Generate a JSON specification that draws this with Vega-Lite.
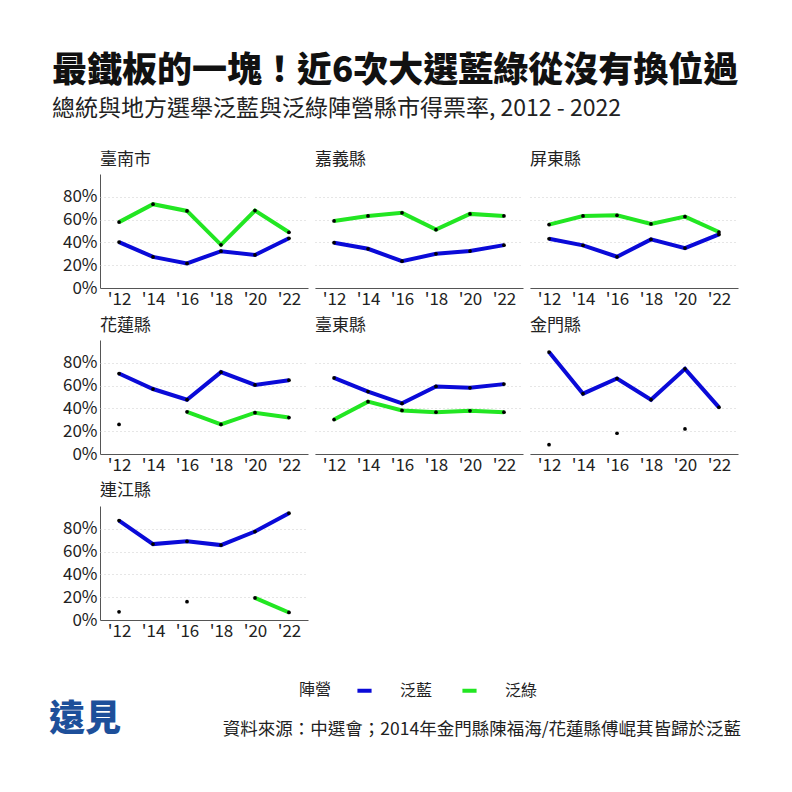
{
  "$schema": "https://vega.github.io/schema/vega-lite/v6.json",
  "background": "white",
  "padding": {"left": 49, "top": 54, "right": 40, "bottom": 10},
  "title": {
    "text": "最鐵板的一塊！近6次大選藍綠從沒有換位過",
    "subtitle": "總統與地方選舉泛藍與泛綠陣營縣市得票率, 2012 - 2022",
    "anchor": "start",
    "dx": 3,
    "font": "Noto Sans CJK TC",
    "fontSize": 35,
    "fontWeight": 900,
    "color": "#111",
    "subtitleFont": "Noto Sans CJK TC",
    "subtitleFontSize": 23,
    "subtitleColor": "#222",
    "subtitlePadding": 9,
    "offset": 30
  },
  "resolve": {"legend": {"color": "independent"}, "scale": {"color": "independent"}},
  "spacing": 3,
  "vconcat": [
    {
      "data": {
        "values": [
          {"county": "臺南市", "year": 2012, "camp": "泛藍", "value": 0.403},
          {"county": "臺南市", "year": 2014, "camp": "泛藍", "value": 0.273},
          {"county": "臺南市", "year": 2016, "camp": "泛藍", "value": 0.216},
          {"county": "臺南市", "year": 2018, "camp": "泛藍", "value": 0.323},
          {"county": "臺南市", "year": 2020, "camp": "泛藍", "value": 0.290},
          {"county": "臺南市", "year": 2022, "camp": "泛藍", "value": 0.436},
          {"county": "臺南市", "year": 2012, "camp": "泛綠", "value": 0.578},
          {"county": "臺南市", "year": 2014, "camp": "泛綠", "value": 0.735},
          {"county": "臺南市", "year": 2016, "camp": "泛綠", "value": 0.676},
          {"county": "臺南市", "year": 2018, "camp": "泛綠", "value": 0.379},
          {"county": "臺南市", "year": 2020, "camp": "泛綠", "value": 0.679},
          {"county": "臺南市", "year": 2022, "camp": "泛綠", "value": 0.489},
          {"county": "嘉義縣", "year": 2012, "camp": "泛藍", "value": 0.397},
          {"county": "嘉義縣", "year": 2014, "camp": "泛藍", "value": 0.344},
          {"county": "嘉義縣", "year": 2016, "camp": "泛藍", "value": 0.235},
          {"county": "嘉義縣", "year": 2018, "camp": "泛藍", "value": 0.300},
          {"county": "嘉義縣", "year": 2020, "camp": "泛藍", "value": 0.324},
          {"county": "嘉義縣", "year": 2022, "camp": "泛藍", "value": 0.376},
          {"county": "嘉義縣", "year": 2012, "camp": "泛綠", "value": 0.588},
          {"county": "嘉義縣", "year": 2014, "camp": "泛綠", "value": 0.632},
          {"county": "嘉義縣", "year": 2016, "camp": "泛綠", "value": 0.659},
          {"county": "嘉義縣", "year": 2018, "camp": "泛綠", "value": 0.512},
          {"county": "嘉義縣", "year": 2020, "camp": "泛綠", "value": 0.650},
          {"county": "嘉義縣", "year": 2022, "camp": "泛綠", "value": 0.632},
          {"county": "屏東縣", "year": 2012, "camp": "泛藍", "value": 0.432},
          {"county": "屏東縣", "year": 2014, "camp": "泛藍", "value": 0.374},
          {"county": "屏東縣", "year": 2016, "camp": "泛藍", "value": 0.274},
          {"county": "屏東縣", "year": 2018, "camp": "泛藍", "value": 0.426},
          {"county": "屏東縣", "year": 2020, "camp": "泛藍", "value": 0.350},
          {"county": "屏東縣", "year": 2022, "camp": "泛藍", "value": 0.470},
          {"county": "屏東縣", "year": 2012, "camp": "泛綠", "value": 0.556},
          {"county": "屏東縣", "year": 2014, "camp": "泛綠", "value": 0.632},
          {"county": "屏東縣", "year": 2016, "camp": "泛綠", "value": 0.638},
          {"county": "屏東縣", "year": 2018, "camp": "泛綠", "value": 0.562},
          {"county": "屏東縣", "year": 2020, "camp": "泛綠", "value": 0.626},
          {"county": "屏東縣", "year": 2022, "camp": "泛綠", "value": 0.491},
          {"county": "花蓮縣", "year": 2012, "camp": "泛藍", "value": 0.706},
          {"county": "花蓮縣", "year": 2014, "camp": "泛藍", "value": 0.570},
          {"county": "花蓮縣", "year": 2016, "camp": "泛藍", "value": 0.476},
          {"county": "花蓮縣", "year": 2018, "camp": "泛藍", "value": 0.718},
          {"county": "花蓮縣", "year": 2020, "camp": "泛藍", "value": 0.606},
          {"county": "花蓮縣", "year": 2022, "camp": "泛藍", "value": 0.647},
          {"county": "花蓮縣", "year": 2012, "camp": "泛綠", "value": 0.259},
          {"county": "花蓮縣", "year": 2014, "camp": "泛綠", "value": null},
          {"county": "花蓮縣", "year": 2016, "camp": "泛綠", "value": 0.370},
          {"county": "花蓮縣", "year": 2018, "camp": "泛綠", "value": 0.259},
          {"county": "花蓮縣", "year": 2020, "camp": "泛綠", "value": 0.362},
          {"county": "花蓮縣", "year": 2022, "camp": "泛綠", "value": 0.320},
          {"county": "臺東縣", "year": 2012, "camp": "泛藍", "value": 0.667},
          {"county": "臺東縣", "year": 2014, "camp": "泛藍", "value": 0.548},
          {"county": "臺東縣", "year": 2016, "camp": "泛藍", "value": 0.444},
          {"county": "臺東縣", "year": 2018, "camp": "泛藍", "value": 0.593},
          {"county": "臺東縣", "year": 2020, "camp": "泛藍", "value": 0.581},
          {"county": "臺東縣", "year": 2022, "camp": "泛藍", "value": 0.613},
          {"county": "臺東縣", "year": 2012, "camp": "泛綠", "value": 0.302},
          {"county": "臺東縣", "year": 2014, "camp": "泛綠", "value": 0.459},
          {"county": "臺東縣", "year": 2016, "camp": "泛綠", "value": 0.382},
          {"county": "臺東縣", "year": 2018, "camp": "泛綠", "value": 0.367},
          {"county": "臺東縣", "year": 2020, "camp": "泛綠", "value": 0.379},
          {"county": "臺東縣", "year": 2022, "camp": "泛綠", "value": 0.367},
          {"county": "金門縣", "year": 2012, "camp": "泛藍", "value": 0.894},
          {"county": "金門縣", "year": 2014, "camp": "泛藍", "value": 0.529},
          {"county": "金門縣", "year": 2016, "camp": "泛藍", "value": 0.662},
          {"county": "金門縣", "year": 2018, "camp": "泛藍", "value": 0.476},
          {"county": "金門縣", "year": 2020, "camp": "泛藍", "value": 0.747},
          {"county": "金門縣", "year": 2022, "camp": "泛藍", "value": 0.409},
          {"county": "金門縣", "year": 2012, "camp": "泛綠", "value": 0.082},
          {"county": "金門縣", "year": 2014, "camp": "泛綠", "value": null},
          {"county": "金門縣", "year": 2016, "camp": "泛綠", "value": 0.182},
          {"county": "金門縣", "year": 2018, "camp": "泛綠", "value": null},
          {"county": "金門縣", "year": 2020, "camp": "泛綠", "value": 0.220},
          {"county": "金門縣", "year": 2022, "camp": "泛綠", "value": null},
          {"county": "連江縣", "year": 2012, "camp": "泛藍", "value": 0.872},
          {"county": "連江縣", "year": 2014, "camp": "泛藍", "value": 0.666},
          {"county": "連江縣", "year": 2016, "camp": "泛藍", "value": 0.690},
          {"county": "連江縣", "year": 2018, "camp": "泛藍", "value": 0.657},
          {"county": "連江縣", "year": 2020, "camp": "泛藍", "value": 0.776},
          {"county": "連江縣", "year": 2022, "camp": "泛藍", "value": 0.937},
          {"county": "連江縣", "year": 2012, "camp": "泛綠", "value": 0.072},
          {"county": "連江縣", "year": 2014, "camp": "泛綠", "value": null},
          {"county": "連江縣", "year": 2016, "camp": "泛綠", "value": 0.161},
          {"county": "連江縣", "year": 2018, "camp": "泛綠", "value": null},
          {"county": "連江縣", "year": 2020, "camp": "泛綠", "value": 0.194},
          {"county": "連江縣", "year": 2022, "camp": "泛綠", "value": 0.066}
        ]
      },
      "columns": 3,
      "spacing": {"row": 9, "column": 7},
      "resolve": {"axis": {"x": "independent"}},
      "facet": {
        "field": "county",
        "type": "nominal",
        "sort": ["臺南市", "嘉義縣", "屏東縣", "花蓮縣", "臺東縣", "金門縣", "連江縣"],
        "header": {
          "title": null,
          "labelAnchor": "start",
          "labelAlign": "left",
          "labelExpr": "'\u00a0' + datum.label",
          "labelFont": "Noto Sans CJK TC",
          "labelFontSize": 17,
          "labelColor": "#222",
          "labelPadding": 5
        }
      },
      "spec": {
        "width": 208,
        "height": 114,
        "encoding": {
          "x": {
            "field": "year",
            "type": "ordinal",
            "scale": {"type": "point", "padding": 0.56},
            "axis": {"title": null, "labelAngle": 0, "labelExpr": "'\\'' + substring(datum.label, 2)"}
          },
          "y": {
            "field": "value",
            "type": "quantitative",
            "scale": {"domain": [0, 1]},
            "axis": {"title": null, "values": [0, 0.2, 0.4, 0.6, 0.8], "format": ".0%"}
          }
        },
        "layer": [
          {
            "mark": {"type": "line", "strokeWidth": 4, "invalid": "break-paths-show-domains"},
            "encoding": {
              "color": {
                "field": "camp",
                "type": "nominal",
                "scale": {"domain": ["泛藍", "泛綠"], "range": ["#0a0ad8", "#22e622"]},
                "legend": {
                  "title": "陣營",
                  "orient": "none",
                  "legendX": 199,
                  "legendY": 507,
                  "direction": "horizontal",
                  "titleOrient": "left",
                  "symbolType": "stroke",
                  "symbolStrokeWidth": 4,
                  "symbolSize": 200,
                  "labelOffset": 26,
                  "columnPadding": 21,
                  "titlePadding": 23
                }
              }
            }
          },
          {
            "transform": [{"filter": "isValid(datum.value)"}],
            "mark": {"type": "circle", "color": "black", "size": 14, "opacity": 1}
          }
        ]
      }
    },
    {
      "width": 679,
      "height": 40,
      "data": {"values": [{"logo": "遠見", "note": "資料來源：中選會；2014年金門縣陳福海/花蓮縣傅崐萁皆歸於泛藍"}]},
      "layer": [
        {
          "mark": {"type": "text", "font": "Noto Sans CJK TC", "fontSize": 36, "fontWeight": 900, "color": "#1d4f9a", "align": "left", "baseline": "middle", "x": -51, "y": 3},
          "encoding": {"text": {"field": "logo"}}
        },
        {
          "mark": {"type": "text", "font": "Noto Sans CJK TC", "fontSize": 17.5, "color": "#222", "align": "right", "baseline": "middle", "x": 641, "y": 13},
          "encoding": {"text": {"field": "note"}}
        }
      ]
    }
  ],
  "config": {
    "font": "Noto Sans CJK TC",
    "view": {"stroke": null},
    "axis": {
      "labelFont": "Noto Sans CJK TC",
      "labelColor": "#222",
      "domainColor": "#555",
      "ticks": false,
      "labelPadding": 3
    },
    "axisX": {"labelFontSize": 17, "grid": false},
    "axisY": {"labelFontSize": 17, "gridColor": "#cccccc", "gridDash": [1, 3], "gridWidth": 1},
    "legend": {
      "titleFont": "Noto Sans CJK TC",
      "titleFontSize": 16,
      "titleFontWeight": "normal",
      "titleColor": "#222",
      "labelFont": "Noto Sans CJK TC",
      "labelFontSize": 16,
      "labelColor": "#222"
    }
  }
}
